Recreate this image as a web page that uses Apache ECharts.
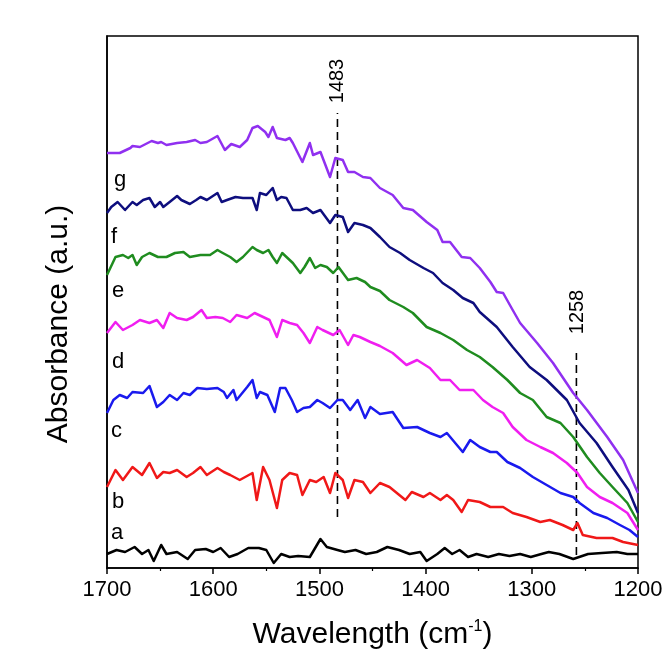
<!DOCTYPE html>
<html>
<head>
<meta charset="utf-8">
<script src="https://cdn.jsdelivr.net/npm/echarts@6/dist/echarts.min.js"></script>
<style>
html,body{margin:0;padding:0;background:#fff;}
#chart{width:668px;height:661px;}
</style>
</head>
<body>
<div id="chart"></div>
<script>
// Curve a (black): wavenumber (cm-1) and offset absorbance (a.u.)
const aWn  = [1700,1691,1683,1674,1667,1661,1656,1649,1644,1634,1624,1617,1607,1600,1593,1585,1577,1567,1557,1550,1543,1536,1528,1520,1509,1499,1493,1483,1476,1466,1456,1446,1436,1425,1415,1405,1399,1389,1382,1375,1368,1360,1352,1341,1331,1321,1311,1301,1291,1284,1274,1261,1247,1234,1220,1210,1200];
const aVal = [14,18,16,21,14,18,7,23,14,16,9,18,19,16,20,11,14,20,20,18,5,14,11,12,11,29,21,18,16,18,14,16,21,18,14,16,7,14,20,14,18,11,14,11,14,12,14,11,14,16,14,9,14,15,16,14,14];
// Curve b (red)
const bWn  = [1700,1692,1685,1676,1667,1660,1653,1647,1641,1634,1625,1619,1612,1606,1596,1590,1584,1575,1563,1559,1553,1547,1540,1535,1528,1521,1516,1509,1503,1496,1490,1485,1478,1473,1467,1459,1452,1443,1434,1419,1413,1402,1396,1386,1380,1374,1366,1360,1349,1339,1327,1318,1305,1292,1283,1271,1261,1257,1252,1239,1224,1214,1200];
const bVal = [81,98,88,101,93,105,90,96,95,98,91,95,101,93,100,96,93,88,95,68,101,88,60,88,95,93,73,88,86,91,75,95,88,70,88,86,75,85,81,68,76,71,75,68,73,68,56,68,66,61,61,55,51,46,48,43,38,45,33,30,30,26,23];
// Curve c (blue)
const cWn  = [1700,1694,1688,1681,1676,1666,1660,1653,1647,1641,1634,1628,1622,1615,1606,1596,1590,1587,1581,1578,1568,1563,1559,1556,1549,1542,1537,1532,1526,1521,1515,1509,1502,1497,1490,1483,1478,1471,1464,1457,1452,1443,1431,1421,1408,1396,1386,1380,1365,1358,1349,1339,1333,1323,1311,1299,1286,1273,1261,1255,1242,1229,1217,1208,1200];
const cVal = [155,168,173,170,176,175,182,161,166,173,168,175,173,180,179,180,176,170,178,168,181,188,170,176,173,156,180,180,168,156,160,161,168,165,160,168,168,158,168,150,161,154,156,140,141,135,131,135,116,128,121,116,116,106,100,91,83,75,71,65,55,50,43,38,31];
// Curve d (magenta)
const dWn  = [1700,1692,1685,1676,1669,1660,1653,1647,1641,1634,1625,1619,1611,1606,1598,1591,1584,1578,1568,1561,1553,1547,1540,1535,1528,1521,1515,1509,1502,1497,1487,1481,1473,1468,1462,1452,1443,1431,1418,1408,1396,1386,1377,1368,1355,1346,1337,1327,1318,1305,1292,1280,1267,1257,1248,1236,1224,1210,1200];
const dVal = [235,246,238,243,248,245,248,240,255,250,248,251,258,250,251,250,246,253,250,255,251,248,231,248,245,243,235,225,241,238,233,238,223,233,231,226,222,215,203,208,200,188,188,178,178,168,161,155,141,128,121,115,105,95,81,71,65,55,38];
// Curve e (green)
const eWn  = [1700,1692,1685,1680,1676,1672,1667,1660,1652,1644,1636,1628,1622,1612,1603,1596,1591,1584,1578,1572,1563,1559,1553,1548,1544,1540,1535,1531,1525,1518,1514,1509,1504,1499,1493,1487,1482,1473,1465,1457,1452,1443,1434,1421,1412,1399,1386,1374,1361,1349,1337,1323,1311,1299,1286,1273,1261,1248,1236,1224,1210,1200];
const eVal = [293,311,313,310,313,303,311,315,311,311,315,316,311,313,313,318,315,311,306,311,321,318,315,318,311,305,315,311,305,295,301,310,300,303,301,295,301,288,290,286,281,277,268,261,255,241,235,228,218,211,201,188,175,168,151,145,131,111,95,81,65,46];
// Curve f (navy)
const fWn  = [1700,1696,1690,1683,1676,1672,1666,1660,1655,1650,1647,1641,1634,1630,1622,1616,1612,1606,1596,1592,1587,1579,1572,1563,1559,1556,1550,1544,1540,1536,1531,1525,1518,1512,1506,1499,1490,1485,1478,1473,1467,1459,1452,1443,1434,1424,1415,1402,1393,1384,1374,1365,1355,1349,1333,1318,1302,1286,1267,1255,1239,1224,1209,1200];
const fVal = [355,361,366,358,366,363,368,370,361,366,361,366,372,368,364,368,371,368,375,366,368,371,370,370,358,375,373,380,368,371,370,358,358,360,355,358,345,353,351,336,345,343,340,331,321,315,308,300,295,285,278,270,265,256,241,221,201,188,168,145,125,101,78,55];
// Curve g (purple)
const gWn  = [1700,1688,1678,1676,1669,1658,1652,1649,1644,1634,1625,1617,1612,1606,1596,1589,1583,1575,1568,1563,1558,1551,1548,1544,1540,1532,1528,1525,1516,1509,1506,1499,1490,1485,1478,1473,1467,1459,1452,1443,1431,1421,1412,1399,1389,1384,1377,1366,1358,1349,1339,1333,1327,1318,1311,1295,1280,1261,1248,1229,1214,1200];
const gVal = [415,415,420,422,421,427,425,426,423,425,426,428,425,426,432,418,424,421,428,440,442,436,431,441,430,428,430,425,406,425,413,416,391,410,408,396,396,391,390,380,373,360,358,346,338,326,326,311,310,300,286,276,275,258,245,225,205,175,158,131,108,75];

const curveNames = ['a','b','c','d','e','f','g'];
const curveWn  = [aWn, bWn, cWn, dWn, eWn, fWn, gWn];
const curveVal = [aVal, bVal, cVal, dVal, eVal, fVal, gVal];

// Marked bands (cm-1)
const markerWavenumbers = [1483, 1258];
const markerLabels = ['1483', '1258'];

// x-axis tick labels
const xTicks = [1700, 1600, 1500, 1400, 1300, 1200];

// ---- styling / layout ----
const colors = ['#000000', '#f01818', '#1a1aee', '#f01ef0', '#1f8c1f', '#0e0e7e', '#9030f0'];
const FONT = '"Liberation Sans", Arial, sans-serif';
const markerExtent = [[51, 455], [13, 215]];
const markerLabelPx = [[337, 81], [577, 312]];
const letterPx = [[111, 533], [112, 502], [111, 431], [112, 362], [112, 291], [111, 237], [114, 180]];

const chart = echarts.init(document.getElementById('chart'), null, {renderer: 'canvas'});

const series = curveVal.map((vals, i) => ({
  name: curveNames[i],
  type: 'line',
  data: curveWn[i].map((w, j) => [w, vals[j]]),
  showSymbol: false,
  symbol: 'none',
  smooth: false,
  animation: false,
  z: 3,
  lineStyle: {color: colors[i], width: 2.5, join: 'round'},
  itemStyle: {color: colors[i]}
}));

markerWavenumbers.forEach((w, i) => {
  series.push({
    type: 'line',
    data: [[w, markerExtent[i][0]], [w, markerExtent[i][1]]],
    showSymbol: false,
    symbol: 'none',
    animation: false,
    z: 2,
    lineStyle: {color: '#000', width: 1.6, type: [8, 5]}
  });
});

const graphics = [];
curveNames.forEach((n, i) => {
  graphics.push({
    type: 'text', x: letterPx[i][0], y: letterPx[i][1], z: 10,
    style: {text: n, fill: '#000', font: '22px ' + FONT, align: 'left', verticalAlign: 'middle', textAlign: 'left', textVerticalAlign: 'middle'}
  });
});
markerLabels.forEach((t, i) => {
  graphics.push({
    type: 'text', x: markerLabelPx[i][0], y: markerLabelPx[i][1], rotation: Math.PI / 2, z: 10,
    style: {text: t, fill: '#000', font: '20px ' + FONT, align: 'center', verticalAlign: 'middle', textAlign: 'center', textVerticalAlign: 'middle'}
  });
});
graphics.push({
  type: 'text', x: 59, y: 324, rotation: Math.PI / 2, z: 10,
  style: {text: 'Absorbance (a.u.)', fill: '#000', font: '30px ' + FONT, align: 'center', verticalAlign: 'middle', textAlign: 'center', textVerticalAlign: 'middle'}
});

const option = {
  backgroundColor: '#ffffff',
  animation: false,
  grid: {left: 107, right: 30, top: 36, bottom: 93, show: true, borderColor: '#000', borderWidth: 1.5, backgroundColor: 'transparent'},
  xAxis: {
    type: 'value', min: 1200, max: 1700, interval: 100, inverse: true,
    axisLine: {show: true, lineStyle: {color: '#000', width: 1.5}},
    axisTick: {show: true, inside: false, length: 6, lineStyle: {color: '#000', width: 1.5}},
    minorTick: {show: true, splitNumber: 2, length: 3, lineStyle: {color: '#000', width: 1.2}},
    splitLine: {show: false},
    axisLabel: {color: '#000', fontSize: 22, fontFamily: FONT, margin: 11,
      formatter: v => (xTicks.indexOf(v) >= 0 ? String(v) : '')},
    name: '{t|Wavelength (cm}{s|-1}{t|)}',
    nameLocation: 'middle', nameGap: 51,
    nameTextStyle: {rich: {
      t: {fontSize: 30, fontFamily: FONT, color: '#000'},
      s: {fontSize: 16, fontFamily: FONT, color: '#000', padding: [0, 0, 16, 0]}
    }}
  },
  yAxis: {
    type: 'value', min: 0, max: 532,
    axisLine: {show: true, lineStyle: {color: '#000', width: 1.5}},
    axisTick: {show: false}, axisLabel: {show: false}, splitLine: {show: false}
  },
  series: series,
  graphic: graphics
};
chart.setOption(option);
</script>
</body>
</html>
